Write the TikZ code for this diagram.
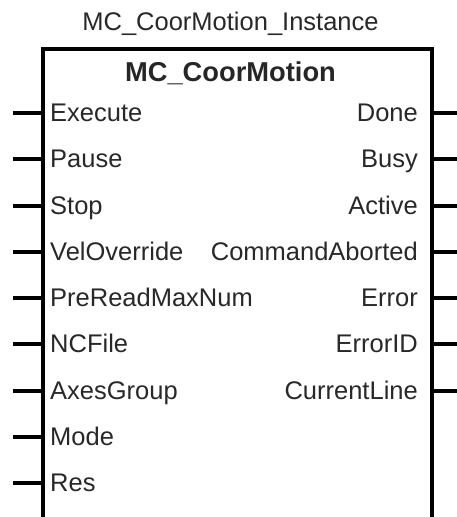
\documentclass[tikz,border=0pt]{standalone}
\usepackage{fontspec}
\setmainfont{Liberation Sans}
\usetikzlibrary{positioning}
\definecolor{txtgray}{RGB}{40,40,40}
\begin{document}
\begin{tikzpicture}[x=1pt,y=-1pt,
  lbl/.style={font=\fontsize{25.5}{28}\selectfont,text=txtgray,inner sep=0pt},
  pin/.style={line width=4pt}]
\pgfmathsetmacro{\ytop}{113}
\pgfmathsetmacro{\dy}{46.25}
\useasboundingbox (0,0) rectangle (457,517);
%
\node[draw,line width=4pt,outer sep=0pt,minimum width=389pt,minimum height=469.5pt,
  anchor=north west] (fb) at (42.5,49) {};
\node[lbl,anchor=base] (inst) at (230.5,30) {MC\_CoorMotion\_Instance};
\node[lbl,font=\fontsize{27.3}{30}\bfseries,text=black!85,anchor=base] (fbname) at (230.5,81) {MC\_CoorMotion};
%
\foreach \name [count=\i] in {Execute,Pause,Stop,VelOverride,PreReadMaxNum,NCFile,AxesGroup,Mode,Res}{
  \pgfmathsetmacro{\yy}{\ytop+(\i-1)*\dy}
  \node[lbl,anchor=base west] (in\i) at (50,\yy+8.5) {\name};
  \coordinate (pinL\i) at (13,\yy);
  \draw[pin] (pinL\i) -- (pinL\i -| fb.west);
}
\foreach \name [count=\i] in {Done,Busy,Active,CommandAborted,Error,ErrorID,CurrentLine}{
  \pgfmathsetmacro{\yy}{\ytop+(\i-1)*\dy}
  \node[lbl,anchor=base east] (out\i) at (418,\yy+8.5) {\name};
  \coordinate (pinR\i) at (457,\yy);
  \draw[pin] (pinR\i) -- (pinR\i -| fb.east);
}
\end{tikzpicture}
\end{document}
